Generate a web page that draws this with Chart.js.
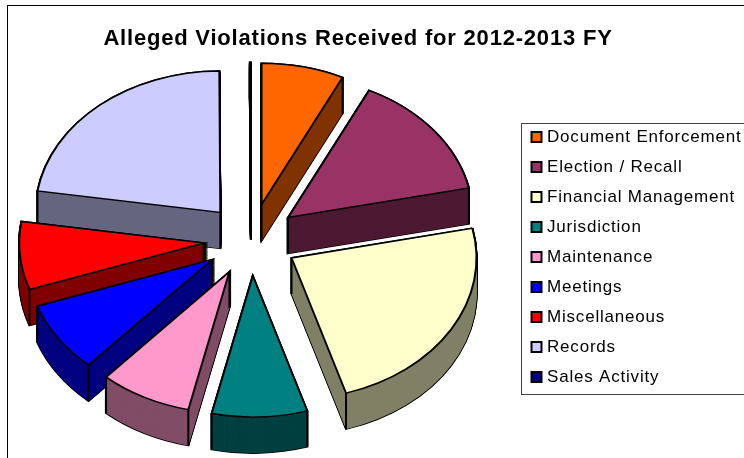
<!DOCTYPE html>
<html>
<head>
<meta charset="utf-8">
<title>Alleged Violations</title>
<script src="https://cdn.jsdelivr.net/npm/chart.js@4"></script>
<style>
  html,body{margin:0;padding:0;background:#fff;overflow:hidden}
  canvas{display:block}
</style>
</head>
<body>
<canvas id="pie" width="744" height="458"></canvas>
<script>
const TITLE = 'Alleged Violations Received for 2012-2013 FY';
const categories = ['Document Enforcement','Election / Recall','Financial Management','Jurisdiction','Maintenance','Meetings','Miscellaneous','Records','Sales Activity'];
// valores (grados aprox. de cada porción)
const values = [26, 52, 85, 30, 29, 29, 28, 81, 0.3];
const topColors  = ['#ff6600','#993366','#ffffcc','#008080','#ff99cc','#0000ff','#ff0000','#ccccff','#000080'];
const wallColors = ['#803300','#4d1a33','#808066','#004040','#804d66','#000080','#800000','#666680','#000040'];

const SQUISH = 0.765;  // inclinación 3D: escala vertical del círculo
const RADIUS = 185;
const EXPLODE = 47;    // separación de cada porción
const DEPTH = 36;      // altura de la pared en px de pantalla

function squish(ctx, cy){
  ctx.translate(0,cy);
  ctx.scale(1,SQUISH);
  ctx.translate(0,-cy);
}

function drawLayers(ctx, arc, opts){
  const saved = arc.options;
  arc.options = Object.assign({}, saved, opts);
  const h = DEPTH/SQUISH;
  for(let d=h;d>=0;d-=1){
    ctx.save();
    ctx.translate(0,d);
    arc.draw(ctx);
    ctx.restore();
  }
  arc.options = saved;
}

const pie3d = {
  id:'pie3d',
  afterLayout(chart){
    // título centrado sobre el marco, leyenda recortada por el borde derecho
    chart.titleBlock.left = 0;
    chart.titleBlock.right = 716;
    const lg = chart.legend;
    lg.left = 521.5; lg.right = 760;
    lg.top = 115.5; lg.bottom = 400;
  },
  afterDatasetsUpdate(chart){
    // Arc.draw agranda el radio y angosta el ángulo en porciones chicas: se compensa para que todas queden iguales
    chart.getDatasetMeta(0).data.forEach(arc=>{
      const grow = EXPLODE*(1-Math.sin(Math.min(Math.PI,arc.circumference)));
      const narrow = grow/Math.PI/RADIUS/2;
      arc.outerRadius = RADIUS-grow;
      arc.startAngle -= narrow;
      arc.endAngle += narrow;
    });
  },
  beforeDraw(chart){
    const ctx = chart.ctx;
    ctx.save();
    ctx.fillStyle = '#fff';
    ctx.fillRect(0,0,chart.width,chart.height);
    ctx.strokeStyle = '#000';
    ctx.lineWidth = 1;
    ctx.strokeRect(7.5,5.5,900,600);
    ctx.strokeStyle = '#404040';
    ctx.strokeRect(521.5,123.5,400,271);
    ctx.restore();
    ctx.letterSpacing = '0.8px';
  },
  beforeDatasetsDraw(chart){
    const ctx = chart.ctx;
    const arcs = chart.getDatasetMeta(0).data;
    const cy = arcs[0].y;
    ctx.save();
    squish(ctx,cy);
    const h = DEPTH/SQUISH;
    const order = arcs.map((a,i)=>i).sort((p,q)=>{
      const mid = a=>(a.startAngle+a.endAngle)/2;
      return Math.sin(mid(arcs[p]))-Math.sin(mid(arcs[q]));
    });
    order.forEach(i=>{
      const arc = arcs[i];
      drawLayers(ctx,arc,{backgroundColor:'#000',borderColor:'#000',borderWidth:2});
      drawLayers(ctx,arc,{backgroundColor:wallColors[i],borderWidth:0});
      // aristas verticales de la pared
      const mid = (arc.startAngle+arc.endAngle)/2;
      const half = arc.circumference/2;
      const ax = arc.x+Math.cos(mid)*EXPLODE, ay = arc.y+Math.sin(mid)*EXPLODE;
      const corners = [[ax,ay],
        [ax+Math.cos(mid-half)*RADIUS, ay+Math.sin(mid-half)*RADIUS],
        [ax+Math.cos(mid+half)*RADIUS, ay+Math.sin(mid+half)*RADIUS]];
      ctx.strokeStyle = '#000';
      ctx.lineWidth = 2;
      ctx.beginPath();
      corners.forEach(c=>{ ctx.moveTo(c[0],c[1]); ctx.lineTo(c[0],c[1]+h); });
      ctx.stroke();
    });
  },
  afterDatasetsDraw(chart){
    chart.ctx.restore();
  }
};

new Chart(document.getElementById('pie').getContext('2d'),{
  type:'pie',
  plugins:[pie3d],
  data:{
    labels:categories,
    datasets:[{
      data:values,
      backgroundColor:topColors,
      borderColor:'#000',
      borderWidth:2,
      borderJoinStyle:'miter',
      offset:EXPLODE*4,
      hoverOffset:0,
      clip:false
    }]
  },
  options:{
    responsive:false,
    animation:false,
    events:[],
    radius:RADIUS,
    layout:{padding:{left:0,right:242,top:0,bottom:31}},
    plugins:{
      tooltip:{enabled:false},
      title:{
        display:true,
        text:TITLE,
        color:'#000',
        font:{family:'"Liberation Sans"',size:22,weight:'bold'},
        padding:{top:26,bottom:0}
      },
      legend:{
        position:'chartArea',
        align:'start',
        labels:{
          color:'#000',
          font:{family:'"Liberation Sans"',size:17},
          usePointStyle:true,
          pointStyle:'rect',
          boxWidth:4,
          boxHeight:10,
          padding:13
        }
      }
    }
  }
});
</script>
</body>
</html>
